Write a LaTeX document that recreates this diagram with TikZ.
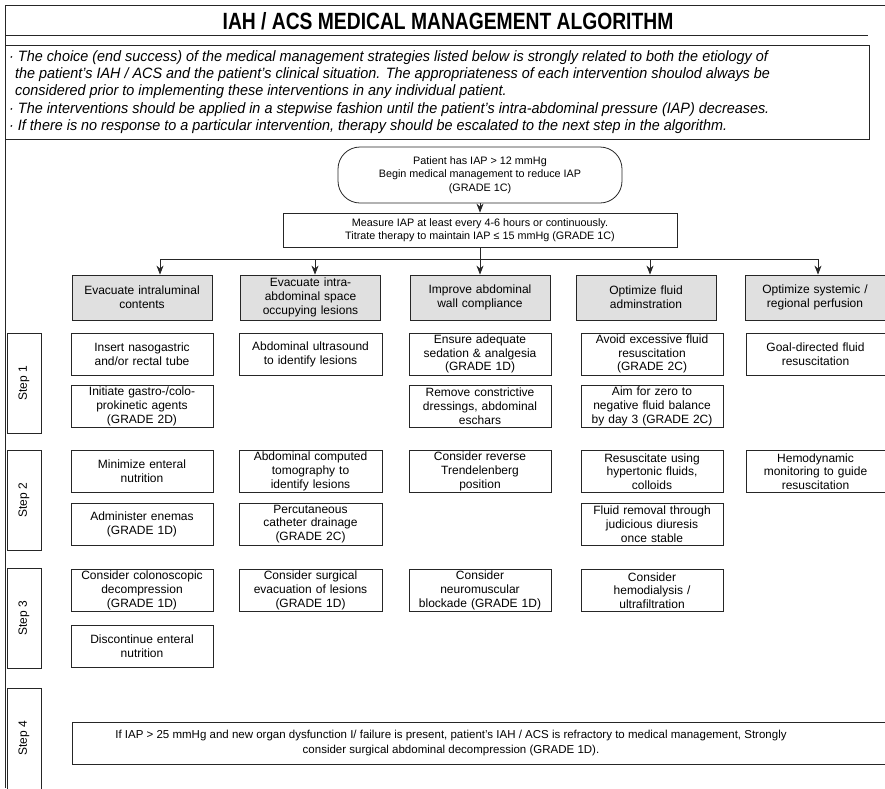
\documentclass[tikz,border=0pt]{standalone}
\usepackage{fontspec}
\setmainfont{Liberation Sans}
\newfontfamily\titlefont[FakeStretch=0.82]{Liberation Sans}
\newfontfamily\introfont[FakeStretch=0.96]{Liberation Sans}
\usetikzlibrary{arrows.meta}
\tikzset{
  frame/.style={line width=0.9pt, draw=black!85},
  ibox/.style={draw=black!85, line width=0.8pt, minimum width=142pt, minimum height=42pt,
    inner sep=0pt, align=center, text width=140pt, font=\fontsize{12}{13.8}\selectfont},
  hdr/.style={ibox, fill=black!12, minimum height=45pt},
  steptab/.style={draw=black!85, line width=0.8pt, rotate=90, minimum width=100pt,
    minimum height=34pt, inner sep=0pt, font=\fontsize{12}{14}\selectfont},
  arr/.style={line width=0.8pt, draw=black!85, -{Stealth[length=9pt,width=7pt]}},
  conn/.style={line width=0.8pt, draw=black!85},
  introline/.style={anchor=base west, inner sep=0pt, font=\introfont\itshape\fontsize{15}{17}\selectfont},
  topbox/.style={draw=black!85, line width=0.8pt, align=center, inner sep=0pt,
    font=\fontsize{10.8}{13.5}\selectfont}
}
\begin{document}
\begin{tikzpicture}[x=1pt,y=-1pt]
\useasboundingbox (0,0) rectangle (885,788);
% outer frame
\draw[frame] (5,788) -- (5,5) -- (885,5);
\draw[frame] (5,35) -- (868,35);
\draw[frame] (5,45) rectangle (869,139);
% title
\node[anchor=base, inner sep=0pt, font=\titlefont\bfseries\fontsize{23.5}{26}\selectfont] (title) at (448,29)
  {IAH / ACS MEDICAL MANAGEMENT ALGORITHM};
% intro
\node[introline] (i1) at (9,61) {· The choice (end success) of the medical management strategies listed below is strongly related to both the etiology of};
\node[introline] (i2) at (15,78) {the patient’s IAH / ACS and the patient’s clinical situation. The appropriateness of each intervention shoulod always be};
\node[introline] (i3) at (15,95) {considered prior to implementing these interventions in any individual patient.};
\node[introline] (i4) at (9,113) {· The interventions should be applied in a stepwise fashion until the patient’s intra-abdominal pressure (IAP) decreases.};
\node[introline] (i5) at (9,130) {· If there is no response to a particular intervention, therapy should be escalated to the next step in the algorithm.};
% top flow
\node[topbox, rounded corners=22pt, minimum width=284pt, minimum height=56pt] (start) at (480,175)
  {Patient has IAP > 12 mmHg\\Begin medical management to reduce IAP\\(GRADE 1C)};
\node[topbox, minimum width=394pt, minimum height=34pt] (measure) at (480,230)
  {Measure IAP at least every 4-6 hours or continuously.\\Titrate therapy to maintain IAP ≤ 15 mmHg (GRADE 1C)};
\draw[arr] (start) -- (measure);
% headers
\node[hdr, minimum width=140pt] (h1) at (142,297.5) {Evacuate intraluminal\\contents};
\node[hdr, minimum width=137pt] (h2) at (310.5,297.5) {Evacuate intra-\\abdominal space\\occupying lesions};
\node[hdr, minimum width=137pt] (h3) at (480,297.5) {Improve abdominal\\wall compliance};
\node[hdr, minimum width=138pt] (h4) at (646,297.5) {Optimize fluid\\adminstration};
\node[hdr, minimum width=138pt] (h5) at (815,297.5) {Optimize systemic /\\regional perfusion};
% distribution
\coordinate (jL) at (160,259);
\coordinate (j2) at (315,259);
\coordinate (j4) at (650,259);
\coordinate (jR) at (818,259);
\draw[conn] (jL) -- (jR);
\draw[arr] (measure) -- (h3);
\draw[arr] (jL) -- (h1.north -| jL);
\draw[arr] (j2) -- (h2.north -| j2);
\draw[arr] (j4) -- (h4.north -| j4);
\draw[arr] (jR) -- (h5.north -| jR);
% step tabs
\node[steptab] (t1) at (24,383) {Step 1};
\node[steptab] (t2) at (24,500.5) {Step 2};
\node[steptab] (t3) at (24,618.5) {Step 3};
\draw[line width=0.8pt, draw=black!85] (7,790) -- (7,688) -- (41,688) -- (41,790);
\node[rotate=90, inner sep=0pt, font=\fontsize{12}{14}\selectfont] (t4) at (24,738) {Step 4};
% column 1
\node[ibox] (a1) at (142,354) {Insert nasogastric\\and/or rectal tube};
\node[ibox] (a2) at (142,406.5) {Initiate gastro-/colo-\\prokinetic agents\\(GRADE 2D)};
\node[ibox] (a3) at (142,471.5) {Minimize enteral\\nutrition};
\node[ibox] (a4) at (142,524) {Administer enemas\\(GRADE 1D)};
\node[ibox] (a5) at (142,590.5) {Consider colonoscopic\\decompression\\(GRADE 1D)};
\node[ibox] (a6) at (142,646) {Discontinue enteral\\nutrition};
% column 2
\node[ibox, minimum width=143pt] (b1) at (310.5,354) {Abdominal ultrasound\\to identify lesions};
\node[ibox, minimum width=143pt] (b3) at (310.5,471.5) {Abdominal computed\\tomography to\\identify lesions};
\node[ibox, minimum width=143pt] (b4) at (310.5,524) {Percutaneous\\catheter drainage\\(GRADE 2C)};
\node[ibox, minimum width=143pt] (b5) at (310.5,590.5) {Consider surgical\\evacuation of lesions\\(GRADE 1D)};
% column 3
\node[ibox] (c1) at (480,354) {Ensure adequate\\sedation \& analgesia\\(GRADE 1D)};
\node[ibox] (c2) at (480,406.5) {Remove constrictive\\dressings, abdominal\\eschars};
\node[ibox] (c3) at (480,471.5) {Consider reverse\\Trendelenberg\\position};
\node[ibox] (c5) at (480,590.5) {Consider\\neuromuscular\\blockade (GRADE 1D)};
% column 4
\node[ibox] (d1) at (652,354) {Avoid excessive fluid\\resuscitation\\(GRADE 2C)};
\node[ibox] (d2) at (652,406.5) {Aim for zero to\\negative fluid balance\\by day 3 (GRADE 2C)};
\node[ibox] (d3) at (652,471.5) {Resuscitate using\\hypertonic fluids,\\colloids};
\node[ibox] (d4) at (652,524) {Fluid removal through\\judicious diuresis\\once stable};
\node[ibox] (d5) at (652,590.5) {Consider\\hemodialysis /\\ultrafiltration};
% column 5
\node[ibox, minimum width=139pt, text width=137pt] (e1) at (815.5,354) {Goal-directed fluid\\resuscitation};
\node[ibox, minimum width=139pt, text width=137pt] (e3) at (815.5,471.5) {Hemodynamic\\monitoring to guide\\resuscitation};
% step 4
\draw[line width=0.8pt, draw=black!85] (890,722) -- (72,722) -- (72,764) -- (890,764);
\node[align=center, inner sep=0pt, font=\fontsize{11.5}{15}\selectfont] (s4) at (451,743)
  {If IAP > 25 mmHg and new organ dysfunction I/ failure is present, patient’s IAH / ACS is refractory to medical management, Strongly\\consider surgical abdominal decompression (GRADE 1D).};
\end{tikzpicture}
\end{document}
